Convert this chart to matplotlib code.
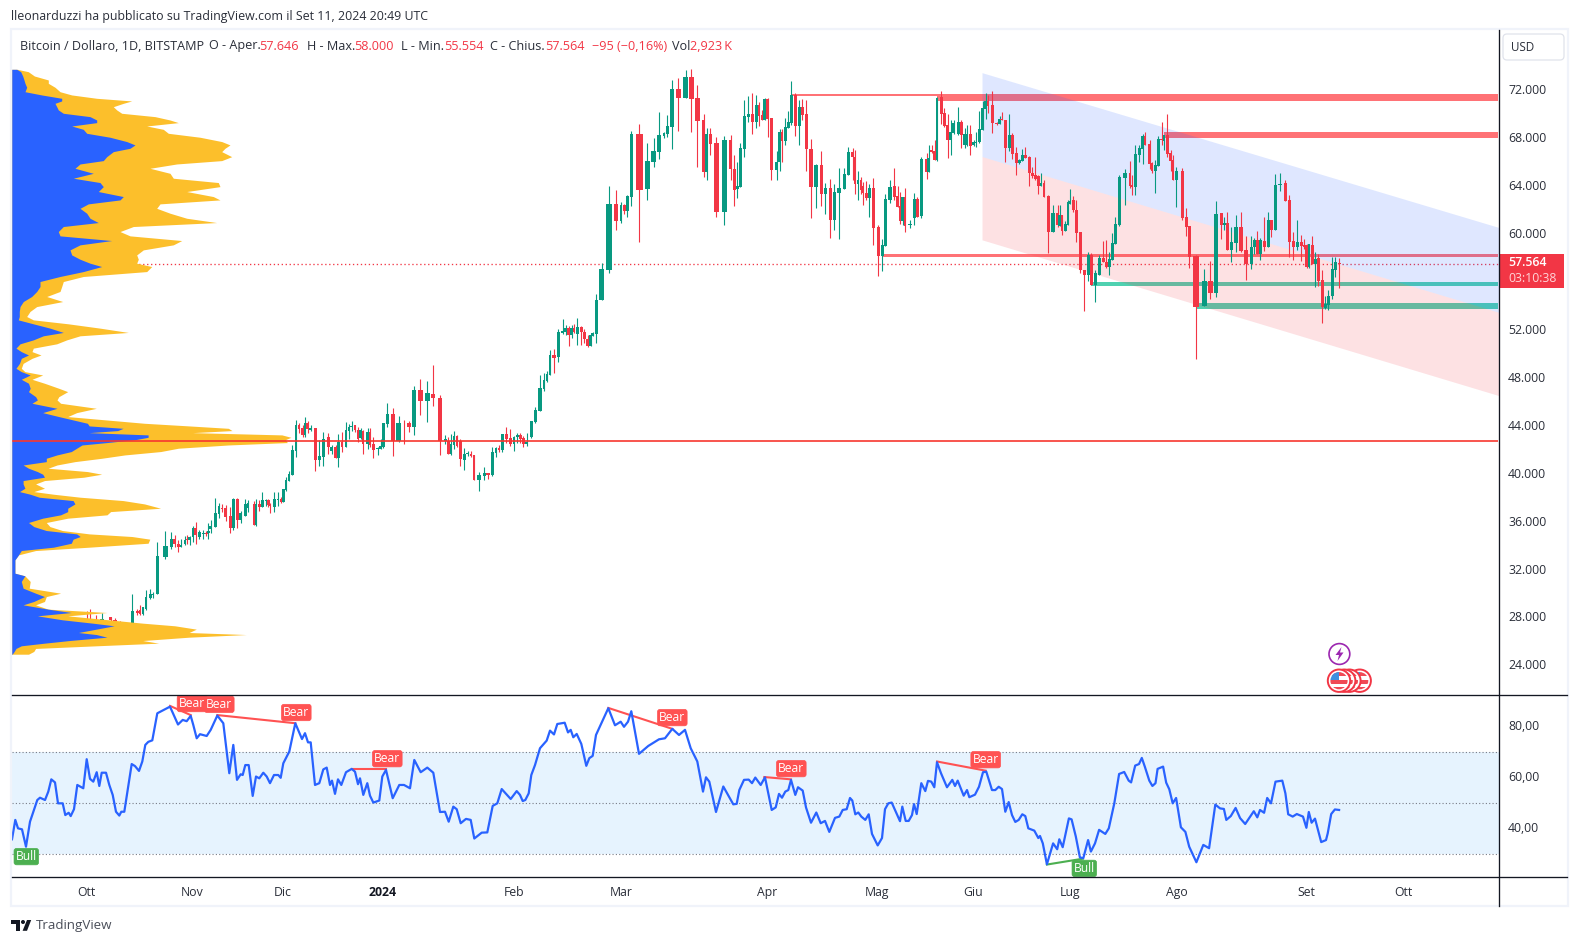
import numpy as np
import matplotlib
matplotlib.use("Agg")
import matplotlib.pyplot as plt
from matplotlib.patches import Rectangle, Circle, Polygon, FancyBboxPatch
from matplotlib.transforms import ScaledTranslation

FONT = ['Open Sans', 'DejaVu Sans']
plt.rcParams['font.family'] = FONT

# ---------- candles: (chart time, open, high, low, close), prices in thousand USD ----------
bars_2023_start = [
 (25,25.6,25.8,25.4,25.5),(29,25.5,25.7,25.3,25.6),(34,26.2,26.4,26.0,26.3),(40,26.3,26.6,26.1,26.5),
 (46,26.5,26.8,26.3,26.4),(52,26.4,26.7,26.2,26.6),(58,26.6,26.9,26.4,26.5),(64,26.5,26.8,26.3,26.7),
 (70,26.7,27.2,26.5,27.0),(76,27.0,27.5,26.8,27.0),(82,27.0,28.0,26.9,27.9),(87,27.9,28.6,27.5,27.7),
 (90,27.9,28.7,27.6,27.8),(96,27.8,28.2,27.5,27.6),(102,27.6,28.4,27.5,27.9),(110.7,28.05,28.1,27.7,27.8),
 (115,27.8,28.0,27.5,27.6),(120,27.4,27.7,26.9,27.0),(125,27.0,27.3,26.8,27.1),(129,27.1,27.4,26.9,27.4),
]
bars_2023_rally = [
 (132.4,27.41,29.98,27.33,28.58),(137.4,28.58,28.72,28.25,28.38),(140,28.61,29.05,28.22,28.33),
 (142.8,28.33,28.94,28.22,28.86),(146,28.72,30.33,28.61,29.75),(150.3,29.63,30.39,29.55,29.97),
 (152.8,29.91,30.19,29.63,30.02),(157.4,30.0,34.33,30.0,33.17),(165.3,33.08,35.25,32.9,34.0),
 (171.4,33.89,35.17,33.75,34.6),(174.6,34.6,34.89,33.89,34.17),(178.5,34.17,34.5,33.5,33.89),
 (181,33.92,34.56,33.89,34.11),(184.9,34.17,34.83,34.11,34.5),(187.1,34.56,34.89,34.17,34.5),
 (189.6,34.5,34.83,34.08,34.75),(192.8,34.72,35.67,34.33,35.5),(195.6,35.5,36.0,34.17,34.94),
 (199.2,34.72,35.33,34.61,35.17),(203.5,35.03,35.33,34.58,35.11),(206.3,35.11,35.28,34.86,35.0),
 (208.5,35.06,35.95,34.58,35.28),(210.6,35.39,36.17,35.06,35.67),(215.3,35.58,38.0,35.58,36.78),
 (219.2,36.67,37.56,36.31,37.36),(222.1,37.2,37.5,36.81,37.09),(225.6,37.17,37.39,36.11,36.45),
 (230.3,36.5,37.28,35.11,35.47),(233.5,35.45,38.0,35.33,37.95),(237.4,37.92,38.0,35.47,36.17),
 (240.6,36.17,36.95,35.89,36.72),(245.3,36.53,37.89,36.53,37.5),(247.8,37.2,37.84,36.86,37.56),
 (253.8,37.5,37.72,35.72,35.75),(256.3,35.72,37.89,35.67,37.5),(259.5,37.5,37.84,36.92,37.28),
 (262.4,37.28,38.5,37.22,37.84),(266,37.78,37.95,37.33,37.84),(268.5,37.84,37.89,37.22,37.42),
 (270.2,37.47,37.56,36.78,37.33),(274.2,37.28,38.5,36.86,37.92),(278.1,37.81,38.5,37.36,37.89),
 (281,37.89,38.11,37.58,37.64),(283.5,37.67,38.73,37.64,38.73),(286.3,38.67,39.73,38.61,39.5),
 (289.2,39.42,40.23,39.39,39.98),(292.4,39.95,42.39,39.92,42.0),(296.3,41.95,44.5,41.45,44.12),
]
bars_2023_winter = [
 (299.2,44.12,44.23,43.45,43.76),(302.7,43.81,44.12,43.12,43.28),(305.2,43.26,44.73,43.06,44.26),
 (307.7,44.23,44.4,43.4,43.73),(310.6,43.67,44.12,43.62,43.84),(315.2,43.84,43.84,40.25,41.17),
 (319.2,41.17,42.84,40.67,41.53),(323.1,41.45,43.51,40.67,42.95),(328.1,43.09,43.45,41.67,42.28),
 (331.7,41.95,42.42,41.67,42.23),(335.6,42.28,42.45,41.31,41.37),(338.4,41.37,43.34,40.59,42.7),
 (342,42.7,43.5,41.84,42.28),(345.9,42.28,44.34,42.23,43.67),(348.8,43.62,44.17,42.95,43.9),
 (351.6,43.9,44.4,43.62,44.01),(355.2,44.09,44.09,43.53,43.67),(358.1,43.67,43.9,42.7,42.9),
 (360.6,43.03,43.81,42.9,43.67),(363.1,43.62,43.67,41.67,42.51),(367.7,42.51,43.84,42.12,43.51),
 (370.2,43.51,43.84,42.23,42.42),(373.4,42.51,43.12,41.34,42.0),(377.7,42.12,42.23,41.62,42.17),
 (380.6,42.12,42.9,42.06,42.34),(383.4,42.28,44.26,42.14,44.26),(387.3,44.17,45.9,43.95,45.01),
 (393.1,45.01,45.48,41.5,42.78),(398.8,42.78,44.84,42.7,44.26),(404.5,44.26,44.51,42.51,44.23),
 (408.8,44.26,44.45,43.5,43.9),(414.1,43.95,47.34,43.26,47.01),(420.2,47.01,47.93,44.93,46.09),
 (427.3,46.09,47.76,44.34,46.76),(433,46.68,49.1,45.7,46.34),(440.2,46.34,46.57,41.59,42.78),
 (445.2,42.78,43.23,42.51,42.9),(448.4,42.78,43.06,41.67,41.67),(450.9,41.67,43.34,41.62,42.51),
 (454.1,42.45,43.62,42.06,43.17),(457,43.17,43.23,42.23,42.34),(460.5,42.78,42.92,40.67,41.28),
 (464.1,41.17,42.17,40.34,41.64),(467.7,41.67,41.9,41.5,41.73),(471.2,41.64,41.9,41.45,41.53),
 (474.1,41.59,41.59,39.5,39.5),(479.1,39.5,40.2,38.59,39.92),(484.1,39.84,40.59,39.5,40.09),
 (488,40.06,40.12,39.59,39.95),(492.3,39.92,42.23,39.87,41.84),(496.2,41.76,42.23,41.45,42.17),
 (499.1,42.17,42.4,41.84,42.0),(502.3,42.0,43.34,41.87,43.34),(506.2,43.34,43.9,42.56,42.92),
 (510.2,43.03,43.73,42.34,42.51),(514.1,42.51,43.17,41.95,43.06),(517.3,43.06,43.45,42.56,43.23),
 (520.5,43.23,43.45,42.62,42.95),(523.4,42.98,43.17,42.28,42.51),(526.9,42.51,43.45,42.34,42.7),
 (531.2,43.09,44.45,42.98,44.42),(535.1,44.37,45.59,44.23,45.34),(540.1,45.26,48.26,45.26,47.18),
 (544.1,47.09,48.4,46.95,47.84),(547.3,47.79,48.57,47.7,48.34),(550.1,48.29,50.35,48.29,49.93),
 (554.1,49.93,50.46,48.4,49.68),
]
bars_2024_spring = [
 (558.3,49.72,52.09,49.31,51.87),(562.7,51.75,52.92,51.7,51.89),(565.7,51.81,52.45,51.62,52.17),
 (568.7,52.17,52.31,50.72,51.62),(571.7,51.62,52.45,51.34,52.17),(574.3,52.17,52.5,51.75,51.81),
 (577.3,51.7,53.03,50.78,52.28),(581.3,52.28,52.37,50.78,51.81),(584.3,51.87,52.09,50.92,51.25),
 (587.7,51.25,51.62,50.56,50.7),(590.7,50.7,51.7,50.64,51.59),(592.7,51.53,51.81,51.48,51.75),
 (596.3,51.7,55.03,50.92,54.53),(601.7,54.53,57.59,54.53,57.12),(609.3,57.04,64.04,56.81,62.54),
 (616.3,62.54,63.71,60.37,61.12),(621,61.12,62.71,60.93,62.46),(624.3,62.48,62.54,61.71,61.98),
 (627.3,61.96,63.29,61.48,63.21),(631.3,63.12,68.63,62.37,68.38),(639.3,68.38,69.21,59.4,63.71),
 (647.3,63.79,67.6,62.87,66.13),(653.7,66.04,68.02,65.63,66.93),(659.3,66.88,70.21,66.29,68.3),
 (664,68.21,68.57,68.02,68.43),(667.3,68.38,69.96,68.1,69.05),(672.3,68.96,72.88,67.13,72.13),
 (678.3,72.13,73.05,68.63,71.38),(685.7,71.38,73.72,71.38,73.13),(691.3,73.13,73.8,68.55,71.3),
 (697.3,71.38,72.47,65.63,69.46),(703.7,69.55,70.05,64.79,65.21),(706.7,65.21,68.85,64.54,68.38),
 (710.3,68.38,68.88,66.63,67.54),(716.3,67.63,68.13,61.46,61.87),(724.3,61.87,68.21,60.79,67.88),
 (730.7,67.88,68.3,64.54,65.46),(734.3,65.46,66.63,62.37,63.71),(737.3,63.79,66.04,63.04,64.04),
 (740.3,63.96,67.63,63.96,67.21),(744.3,67.13,71.21,66.46,69.88),(748.3,69.8,71.55,69.38,70.05),
 (752.3,70.05,71.8,68.38,69.38),(756.3,69.38,71.63,68.88,70.8),(759.3,70.8,71.05,69.05,69.88),
 (762,69.96,70.38,69.55,69.55),(764.7,69.55,71.38,69.55,71.3),(767.7,71.3,71.38,68.13,69.63),
 (771.3,69.71,69.71,64.54,65.38),(776.7,65.38,66.96,64.54,66.04),(779.7,66.04,68.8,65.29,68.54),
 (782.3,68.54,68.8,66.04,67.79),(785.3,67.79,69.71,67.46,68.93),(788.3,68.88,70.3,68.88,69.35),
 (791.3,69.27,72.8,69.13,71.63),(795.3,71.63,71.8,68.21,69.05),(799.3,69.05,71.21,67.46,70.63),
 (802.3,70.63,71.3,69.55,69.96),(806.3,70.05,71.21,65.29,67.13),(811.3,67.13,67.96,61.37,63.96),
 (816.3,63.96,65.88,62.21,65.79),(821.3,65.79,66.96,62.37,63.37),(825.3,63.37,64.29,61.71,63.87),
 (830.3,63.87,64.63,59.71,61.21),(834.3,61.21,64.21,60.37,63.54),(839.3,63.46,65.54,59.62,63.87),
 (844.3,63.79,65.54,63.79,65.04),(848.3,64.96,67.27,64.96,66.88),(852.7,66.88,67.21,64.5,66.46),
 (855.3,66.46,67.04,63.4,64.21),(858.3,64.21,65.29,62.87,64.54),(861,64.54,64.82,63.4,63.71),
 (863.3,64.04,64.38,62.46,63.43),(866.3,63.43,64.43,62.87,63.04),(869.3,63.04,64.21,61.48,63.87),
 (873.3,63.87,64.71,59.12,60.54),(878.3,60.62,60.79,56.54,58.2),(882.3,58.2,59.62,56.95,59.12),
]
bars_2024_summer = [
 (885.3,59.04,63.37,59.04,62.96),(889.7,62.87,64.54,62.6,63.96),(894.3,64.04,65.54,62.87,63.12),
 (897.7,63.21,64.04,62.29,62.29),(900.3,62.37,63.54,60.87,61.12),(902.7,61.12,63.12,60.79,63.12),
 (905.3,63.12,63.87,60.2,60.71),(910,60.79,61.2,60.54,60.87),(914.3,61.37,63.46,60.79,62.96),
 (917.3,62.96,63.12,61.46,61.46),(921.3,61.54,66.46,61.37,66.29),(926.7,66.29,66.77,64.63,65.21),
 (928.7,65.21,67.46,65.21,66.35),(931.7,67.04,67.46,66.77,66.88),(934.7,66.96,67.88,66.21,66.21),
 (937.3,66.21,71.46,66.13,71.38),(941.3,71.46,71.96,69.21,70.05),(944.3,70.13,70.52,68.99,69.05),
 (947.7,69.13,70.0,66.38,67.88),(950.7,67.88,69.55,66.63,68.54),(953.7,68.46,69.55,68.38,69.3),
 (958.3,68.38,70.63,68.3,69.38),(961.3,69.38,69.55,67.21,68.3),(964.7,67.46,68.85,67.21,68.38),
 (967.3,67.46,69.13,67.38,68.38),(970.3,68.38,69.13,66.63,67.38),(973.7,67.46,67.88,67.38,67.71),
 (976,67.6,68.54,67.27,67.71),(979.3,67.71,70.3,67.6,68.8),(982.7,68.71,71.13,68.71,70.55),
 (985.7,70.46,71.8,69.6,71.13),(988.3,71.13,71.63,70.13,70.71),(992.3,70.8,71.96,68.46,69.3),
 (996.7,69.3,69.41,69.13,69.24),(999.7,69.21,69.88,69.18,69.63),(1001.7,69.6,70.21,69.55,69.55),
 (1005.3,69.55,69.55,66.04,67.21),(1009.3,67.21,70.05,66.96,68.3),(1012.3,68.3,68.43,66.29,66.71),
 (1016.3,66.77,67.27,64.96,65.96),(1019.3,65.96,66.29,65.88,66.21),(1022.3,66.13,67.1,66.13,66.63),
 (1025.3,66.63,67.27,66.38,66.4),(1029.3,66.49,66.57,64.04,65.13),(1032.3,65.13,65.65,64.68,64.88),
 (1035.3,64.96,66.46,64.54,64.63),(1038.3,64.88,64.96,63.37,64.04),(1041.3,64.04,65.1,63.99,64.29),
 (1044,64.29,64.54,63.12,63.12),(1048.3,63.21,63.29,58.45,60.2),(1053.3,60.2,62.46,60.2,61.79),
 (1057.7,61.79,62.46,60.65,60.79),(1059.7,60.71,62.46,60.7,61.62),(1062.3,61.62,61.62,59.96,60.29),
 (1065.3,60.29,61.15,60.29,60.87),(1068.3,60.79,62.87,60.79,62.71),(1070.3,62.54,63.76,62.54,62.79),
 (1073.3,62.87,63.21,61.87,62.04),(1076.3,62.04,62.87,59.37,60.12),(1080.3,60.2,60.2,56.79,57.04),
 (1084.3,57.04,57.04,53.62,56.62),(1088.3,56.62,58.54,56.12,58.29),(1091.3,58.29,58.45,55.79,55.79),
 (1095.3,55.79,57.04,54.37,56.79),(1099.3,56.62,58.29,56.62,58.04),(1103.3,58.04,59.45,57.7,57.7),
 (1106.3,57.7,59.54,57.2,57.29),(1109.3,57.29,58.54,56.62,57.95),(1112.3,57.87,60.15,57.87,59.29),
 (1115.3,59.2,61.46,59.2,60.87),(1119.3,60.79,64.96,60.7,64.79),(1125.3,64.71,65.46,62.46,65.13),
 (1130,65.13,66.13,63.87,64.04),(1132.3,64.13,64.96,63.29,63.96),(1135.3,63.96,67.46,63.29,66.71),
 (1139.3,66.63,67.46,66.04,67.21),(1142.7,67.13,68.38,65.88,68.21),(1145.3,68.21,68.54,67.46,67.46),
 (1149.7,67.54,67.88,65.46,65.88),(1152.3,65.96,66.04,65.13,65.29),(1155.3,65.29,66.21,63.46,65.79),
 (1158.3,65.71,68.21,65.71,67.96),(1161.7,67.96,69.38,67.46,67.88),(1164.3,67.79,68.3,67.04,68.3),
 (1167.3,68.3,70.05,66.46,66.71),(1170.7,66.79,67.04,65.29,66.13),(1173.3,66.21,66.63,64.54,64.54),
 (1176.3,64.54,65.63,62.29,65.29),
]
bars_2024_end = [
 (1182.3,65.29,65.54,61.21,61.37),(1186.3,61.46,62.21,59.87,60.62),(1189.3,60.7,60.7,57.2,58.12),
 (1196.3,58.2,58.29,49.61,53.95),(1204.3,54.03,57.12,54.03,56.12),(1210.3,56.12,57.79,54.62,55.12),
 (1216.3,55.12,62.79,54.78,61.71),(1221.3,61.79,61.79,59.62,60.79),(1224.3,60.79,61.46,60.37,60.96),
 (1227.3,60.96,61.87,58.7,58.7),(1231.3,58.7,60.65,57.7,59.37),(1236.3,59.29,61.62,58.54,60.62),
 (1241.3,60.62,61.87,58.54,58.62),(1246.3,58.7,59.87,56.2,57.54),(1251.3,57.54,59.87,57.12,58.95),
 (1254.3,58.95,59.7,58.37,59.54),(1257.3,59.54,60.29,58.37,58.37),(1260.3,58.37,59.7,57.87,59.54),
 (1264.3,59.45,61.46,58.62,58.95),(1268.3,58.95,61.87,58.95,61.21),(1271.3,61.21,61.21,59.79,60.37),
 (1275.3,60.37,65.04,60.37,64.13),(1280.3,64.13,65.13,63.62,64.21),(1285.3,64.29,64.54,62.79,62.79),
 (1289.3,62.87,63.29,58.12,59.37),(1293.3,59.45,60.2,57.87,58.95),(1297.3,58.95,61.21,58.7,59.37),
 (1301.3,59.37,59.95,57.79,59.04),(1304.3,59.12,59.62,58.79,58.95),(1306.7,59.12,59.2,57.2,57.29),
 (1309.3,57.29,59.2,57.2,59.2),(1312.3,59.12,59.87,57.54,57.54),(1315.3,57.54,58.54,55.62,57.95),
 (1318.3,58.04,58.34,55.7,56.12),(1322.3,56.2,57.04,52.62,53.95),(1325.3,53.87,54.87,53.78,54.2),
 (1328.3,54.12,55.37,53.7,54.87),(1332.3,54.87,58.12,54.62,57.12),(1335.3,57.04,58.12,56.45,57.7),
 (1339.3,57.646,58.0,55.554,57.564),
]

# ---------- RSI: (chart time, value) ----------
rsi_2023_a = [(12,35.9),(15.3,43.5),(18,40.2),(22,39.8),(26,33.0),(30,42.8),(37.3,51.3),(40,52.2),(45,51.3),(48.3,54.6),
 (51.3,59.4),(55,58.2),(58,50.0),(62.7,50.0),(65.3,45.4),(68.7,46.3),(70.7,45.0),(74,47.7),(77.3,57.2),(83.3,55.9),
 (86.7,67.3),(90,59.6),(93.3,58.5),(96.7,62.2),(99.3,56.8),(101.7,62.0),(106,62.0),(109.3,57.2),(112.7,53.3),(116,46.7),
 (119.3,45.2),(121.3,46.7),(124.3,46.7),(131.7,65.4),(135,64.6),(139,62.7),(142.3,66.4),(145.3,72.9),(148.3,74.1),(152.3,74.7),
 (157.3,85.3),(170,87.9),(178,80.9),(182.7,82.7),(186.7,82.2),(190.7,84.3),(193.3,80.7),(196.7,75.5),(200,77.1),(206.7,76.4),
 (210.7,78.8),(217.3,84.4),(223.3,81.4),(229.3,61.8),(233.3,72.9),(237,59.2),(240.7,61.4),(242.7,61.1),(245.3,65.0),(248.7,65.0),
 (252.7,52.9),(256,60.5),(259.3,59.8),(263.3,62.0),(266.7,60.5),(270,57.9),(274,61.1),(278.3,61.1),(280.7,60.0),(283.3,65.7),
 (289.3,70.3),(295.3,81.4),(302,75.2),(305,77.5),(308,73.9),(310.7,73.9),(315,57.2),(319.3,57.9),(323.3,63.3),(326.7,64.0),
 (330,57.2),(332,58.9),(335,53.7),(338,59.4),(341.3,57.2),(346,62.2),(351.7,63.5),(355,62.4),(358,57.5),(360,59.8),
 (363.3,53.3),(367.3,57.9),(370,53.0),(373.3,50.3),(379.3,51.1),(382.3,60.5),(386,63.1),(392.7,52.0),(399.3,57.2),(404,57.2)]
rsi_2024_a = [(410,55.9),(414.3,67.0),(420.7,62.2),(427.3,64.0),(433.3,62.0),(440,46.6),(445,46.7),(448.7,42.8),(453.3,48.7),(456.7,47.7),
 (460.7,42.2),(466,43.9),(470.7,43.5),(474.3,36.2),(481.7,38.5),(487.3,38.6),(492.7,49.0),(497.3,50.0),(501.7,55.6),(510.7,51.7),
 (516.7,54.8),(520,53.3),(522.7,50.9),(525.3,51.3),(528.7,53.9),(531.3,61.1),(535,65.0),(540,71.6),(546.7,74.6),(550,78.5),
 (554,77.0),(557.3,81.1),(564.7,81.6),(568,77.8),(570.7,78.8),(573.3,75.9),(576.7,77.2),(581.3,73.3),(586.3,64.7),(589.3,67.7),
 (592.7,68.6),(596,76.8),(608.3,87.3),(615,80.6),(620.7,82.0),(624,80.0),(628,82.0),(631.3,86.1),(639,69.4),(648.3,72.5),
 (659,75.1),(665,75.5),(672.3,79.2),(679,76.8),(685,78.8),(690.7,71.6),(697.3,66.4),(703,54.6),(706,60.2),(709.3,58.5),
 (716,46.6),(723.3,56.6),(733.3,49.6),(736.7,49.8),(739.3,55.2),(744,59.2),(748.7,59.3),(752,57.9),(755.3,60.1),(760.7,57.2),
 (765,60.2),(768.3,53.9),(771.7,47.4),(775.7,48.4),(779,53.7),(782,52.2),(785.3,54.6),(788.3,55.2),(791,59.2),(795.3,53.3),
 (798,56.3),(802.7,55.0),(806,48.4),(811,42.4),(816.3,46.4),(820.7,42.2),(825,43.1),(829.3,38.8),(835,44.3),(839.3,44.8)]
rsi_2024_b = [(842.7,47.4),(846.7,47.7),(850,52.1),(852.3,51.1),(855.3,45.7),(858.3,46.4),(861.3,44.8),(865.3,43.5),(868.7,45.7),(872,38.0),
 (877.7,33.5),(882,36.4),(885,47.7),(888.3,50.0),(891.7,50.3),(900,43.0),(902.3,48.7),(905.7,43.1),(908.7,43.1),(912,45.4),
 (914,49.7),(916.7,45.8),(921.3,57.9),(925.3,54.8),(928,58.8),(931.3,58.5),(934.3,56.3),(937,66.1),(941,61.8),(947,56.3),
 (952.3,59.2),(955,56.8),(957.7,58.9),(963.7,53.0),(967,55.2),(969.3,52.4),(975,53.4),(979,56.5),(983,62.2),(986.3,62.4),
 (992,55.2),(995.3,55.2),(998.7,56.5),(1002,55.6),(1005.3,46.7),(1008.7,50.5),(1012,45.4),(1015.3,42.7),(1018.7,43.5),(1022.3,45.7),
 (1025.3,45.0),(1028.3,40.2),(1034.3,39.3),(1038.3,36.4),(1040,37.2),(1042.8,34.3),(1046.9,26.1),(1053.1,34.3),(1057.2,32.0),(1059.3,35.9),
 (1062.7,32.8),(1068.9,44.1),(1071.6,43.7),(1075.8,37.0),(1079.9,28.8),(1083.3,28.5),(1088.1,35.6),(1090.9,31.1),(1095,34.3),(1099.1,39.6),
 (1105.3,38.0),(1108.8,40.2),(1114.3,50.0),(1119.1,61.5),(1124.2,62.3),(1128.7,58.9),(1131.1,58.2),(1135.2,64.8),(1139,65.4),(1141.8,67.8),
 (1144.8,64.4),(1149.3,58.9),(1152.4,56.8),(1155.5,57.9),(1157.6,63.5),(1163.1,64.4),(1166.2,58.1),(1169.3,55.5),(1172.7,50.0),(1176.1,52.1),
 (1180.9,40.6),(1185.4,38.8),(1189.2,33.0),(1196.4,26.9),(1203.3,33.7),(1209.1,32.4),(1215.3,49.5),(1220.1,48.0),(1223.9,47.8),(1226.3,43.5),
 (1230.8,45.0),(1235.6,48.2),(1240.1,44.2),(1245.2,41.9),(1253.8,46.9),(1257.3,44.5),(1260,47.4),(1264.1,46.3),(1267.2,52.1),(1271,50.0),
 (1275.5,58.5),(1282.3,58.9),(1285.4,53.9),(1288.2,45.7),(1292.7,44.8),(1296.8,45.8),(1303,44.8),(1306.4,40.4),(1308.8,46.6),(1311.6,42.4),
 (1315,44.0),(1321.2,34.8),(1326,35.6),(1327.7,38.2),(1331.2,45.8),(1334.9,47.6),(1339.1,47.4)]

# ---------- volume profile: (price, down volume, total volume) ----------
profile_upper = [(73.77,5,5.6),(73.57,9,16.6),(73.21,11,22.7),(72.88,12.3,36.6),(72.6,13.3,36.6),(72.27,15,43.3),(71.9,13.3,48.3),
 (71.63,30,60),(71.35,50,85),(71.13,50,120),(70.93,43.3,111.6),(70.65,45,101.6),(70.38,46.6,105),(70.1,51.6,110),(69.82,78.3,143.3),
 (69.54,85,158.3),(69.32,85,166.6),(69.04,60,135),(68.76,71.6,151.6),(68.43,75,156.6),(68.1,98.3,188.3),(67.74,115,210),(67.46,123.3,218.3),
 (67.18,118.3,213.3),(66.9,101.6,210),(66.48,95,220),(66.15,91.6,210),(65.87,68.3,165),(65.51,63.3,138.3),(65.09,81.6,158.3),(64.68,61.6,161.6),
 (64.32,88.3,206.6),(63.98,91.6,208.3),(63.57,86.6,175),(63.15,111.6,201.6),(62.87,108.3,208.3),(62.54,76.6,148.3),(62.17,68.3,145),
 (61.76,75,158.3),(61.34,78.3,175),(60.98,86.6,205),(60.65,51.6,121.6),(60.23,46.6,108.3),(59.87,48.3,118.3),(59.48,100,170),(59.12,68.3,161.6),
 (58.7,58.3,131.6),(58.28,60,125),(57.92,68.3,126.6),(57.59,78.3,125),(57.31,90,140),(56.89,71.6,135),(56.48,48.3,71.6),(56.06,28.3,51.6),
 (55.64,28.3,50),(55.23,25,48.3),(54.81,20,35),(54.39,11.6,51),(53.97,8.3,25),(53.56,7.6,18.3),(53.14,7.6,15),(52.86,6.6,21.6),(52.53,21.6,56.6),
 (52.17,38.3,88.3),(51.81,51.6,116.6),(51.53,31.6,68.3),(51.19,21.6,55),(50.86,8.3,45),(50.5,4.3,21.6)]
profile_lower = [(50.21,9.6,20.3),(49.93,16.8,29.3),(49.65,9.6,20.3),(49.23,7.8,11.4),(48.82,4.3,9.6),(48.54,9.6,13.2),(48.26,18.5,31),(47.9,9.6,20.3),
 (47.57,16.8,32.8),(47.15,18.5,47.1),(46.87,16.8,56),(46.45,23.9,47.1),(46.18,25.7,45.3),(45.9,20.3,48.9),(45.48,45.3,84.6),(45.12,31,65),(44.79,47.1,56),
 (44.23,75.7,132.8),(44.01,77.5,177.4),(43.81,111.4,216.7),(43.62,106,220.3),(43.45,77.5,181),(43.26,136.4,270.2),(43.06,136.4,279.2),(42.87,123.9,273.8),
 (42.62,95.3,275.6),(42.42,70.3,216.7),(42.15,65,166.7),(41.87,59.6,148.9),(41.59,45.3,113.2),(41.31,34.6,90),(41.03,34.6,63.2),(40.75,11.4,45.3),
 (40.48,16.8,36.4),(40.2,25.7,75.7),(39.98,31,90),(39.73,32.8,72.1),(39.45,11.4,32.8),(39.17,11.4,23.9),(38.81,13.2,32.8),(38.53,7.8,22.1),(38.31,18.5,41.8),
 (38.06,27.5,68.5),(37.78,61.4,111.4),(37.5,63.2,132.8),(37.14,56,148.9),(36.86,56,98.9),(36.59,48.9,95.3),(36.31,31,56),(35.95,16.8,34.6),(35.61,22.1,38.2),
 (35.28,34.6,50.7),(35.0,65,77.5),(34.78,68.5,120.3),(34.56,61.4,138.1),(34.22,59.6,136.4),(33.89,41.8,77.5),(33.61,9.6,23.9),(33.25,6.8,6.8),(32.83,3.2,3.2),
 (31.72,3.2,3.2),(31.5,13.2,13.2),(31.03,9.6,18.5),(30.47,11.4,17.5),(30.05,23.9,48.9),(29.77,32.8,34.6),(29.36,22.1,32.8),(29.08,11.4,23.9),(28.72,36.4,36.4),
 (28.44,59.6,95.3),(28.16,25.7,56),(27.83,50.7,97.1),(27.55,81,131),(27.33,102.4,163.1),(27.05,84.6,184.6),(26.77,66.7,177.4),(26.6,84.6,234.5),(26.38,95.3,177.4),
 (26.1,57.8,131),(25.88,32.8,147),(25.66,9.6,84.6),(25.44,4.3,23.9),(25.19,2.5,22.1),(24.96,0.5,16.8)]

# ---------- drawn levels (start time, low price, high price) ----------
red_zones = [(936.7,71.16,71.71),(791.7,71.58,71.74),(1164,68.05,68.55),(881.7,58.12,58.37)]
red_zone_ends = [1498.5,937,1498.5,1498.5]
green_zones = [(1091,55.65,56.04),(1197,53.78,54.28)]
channel_time = [982,1498.5]
channel_top = [73.49,60.58]
channel_mid = [66.49,53.5]
channel_low = [59.54,46.55]
support_price = 42.75
last_price = 57.564

# ---------- RSI divergences ----------
div_bear = [((170,88.2),(190.7,84.6)),((217.3,84.6),(295.3,81.4)),((351.7,63.5),(386,63.5)),
            ((608.3,87.4),(672.3,79.2)),((764.3,60.3),(791,59.4)),((937,66.4),(985.7,62.8))]
div_bull = [((1046.9,26.0),(1083,28.3))]
bear_labels = [(192,89.1),(219.3,88.8),(296.3,85.6),(387.3,67.5),(672.3,83.6),(791.3,63.6),(985.7,67.1)]
bull_labels = [(26.3,29.1),(1084.3,24.5)]

# ---------- axes labels ----------
price_ticks = list(range(24,73,4))
price_labels = [f"{v}.000" for v in price_ticks]
rsi_ticks = [40,60,80]
rsi_labels = ["40,00","60,00","80,00"]
month_time = [86.7,191.7,283,382.7,513.6,620.7,767,877.3,972.7,1070,1176.8,1306.4,1403.7]
month_names = ["Ott","Nov","Dic","2024","Feb","Mar","Apr","Mag","Giu","Lug","Ago","Set","Ott"]

GREEN,RED,BLUE,YELLOW = "#089981","#f23645","#2962ff","#fcbf2b"
INK = "#2a2e39"
W,H = 1579,944
L,R = 11.7,1498.5
fig = plt.figure(figsize=(W/100,H/100),dpi=100,facecolor="white")
def add(x0,y0,x1,y1):
    return fig.add_axes([x0/W,1-y1/H,(x1-x0)/W,(y1-y0)/H])
ax = add(L,30,R,695.3)
rs = add(L,695.3,R,877.3)

bars = np.array(bars_2023_start+bars_2023_rally+bars_2023_winter+bars_2024_spring+bars_2024_summer+bars_2024_end)
t,o,h,l,c = bars.T
gap = np.diff(t)
left = np.r_[gap[0],gap]; right = np.r_[gap,gap[-1]]
width = np.maximum(np.minimum(left,right)*0.82,2.4)
col = np.where(c>=o,GREEN,RED)

ax.set_xlim(L,R); ax.set_ylim(21.53,77.05)
rs.set_xlim(L,R); rs.set_ylim(21.0,92.35)

ax.hlines(last_price,L,R,colors=RED,lw=0.95,linestyles=(0,(1,2)),zorder=1)
for (s,lo,hi),e in zip(red_zones,red_zone_ends):
    ax.fill_between([s,e],lo,hi,color="#ff7276",lw=0,zorder=1.2)
for s,lo,hi in green_zones:
    ax.fill_between([s,R],lo,hi,color="#4fd1b0",lw=0,zorder=1.2)
ax.fill_between(channel_time,channel_mid,channel_top,color=BLUE,alpha=0.15,lw=0,zorder=2)
ax.fill_between(channel_time,channel_low,channel_mid,color=RED,alpha=0.15,lw=0,zorder=2)
ax.vlines(t,l,h,colors=col,lw=0.8,zorder=3)
ax.bar(t,np.maximum(np.abs(c-o),0.05),bottom=np.minimum(o,c),width=width,color=col,lw=0,zorder=3.1)
prof = np.array(profile_upper+profile_lower)
ax.fill_betweenx(prof[:,0],L,L+prof[:,2],color=YELLOW,lw=0,zorder=4)
ax.fill_betweenx(prof[:,0],L,L+prof[:,1],color=BLUE,lw=0,zorder=4.1)
ax.hlines(support_price,L,R,colors="#f7372f",lw=1.2,zorder=5)

ax.set_yticks(price_ticks); ax.set_yticklabels(price_labels)
ax.set_xticks([])
rs.axhspan(30,70,color="#e6f3fe",lw=0,zorder=1)
for lev in (30,50,70):
    rs.axhline(lev,color="#787b86",lw=0.8,ls=(0,(1,2)),zorder=1.5)
rv = np.array(rsi_2023_a+rsi_2024_a+rsi_2024_b)
for a,b in div_bear:
    rs.plot([a[0],b[0]],[a[1],b[1]],color="#ff5252",lw=1.5,zorder=2.5)
for a,b in div_bull:
    rs.plot([a[0],b[0]],[a[1],b[1]],color="#4caf50",lw=1.5,zorder=2.5)
rs.plot(rv[:,0],rv[:,1],color=BLUE,lw=1.6,zorder=3,solid_joinstyle="round")
for name,pts,fc in (("Bear",bear_labels,"#ff5252"),("Bull",bull_labels,"#4caf50")):
    for i,(px,py) in enumerate(pts):
        # the two overlapping labels keep both words legible: first word goes above the second box
        rs.text(px,py,name,color="white",ha="center",va="center",fontsize=8.7,zorder=4.5 if i==0 else 4,clip_on=False,
                bbox=dict(boxstyle="round,pad=0.14,rounding_size=0.2",fc=fc,ec=fc,lw=0.5))
rs.set_yticks(rsi_ticks); rs.set_yticklabels(rsi_labels)
rs.set_xticks(month_time); rs.set_xticklabels(month_names)
for a,dy in ((ax,1.3),(rs,1.8)):
    for s in a.spines.values(): s.set_visible(False)
    a.yaxis.tick_right()
    a.tick_params(axis="both",length=0,labelsize=8.8,labelcolor=INK)
    a.tick_params(axis="y",pad=7)
    for lb in a.get_yticklabels():
        lb.set_ha("left")
        lb.set_transform(lb.get_transform()+ScaledTranslation(0,dy/100,fig.dpi_scale_trans))
rs.tick_params(axis="x",pad=6.3)
for lb in rs.get_xticklabels():
    if lb.get_text()=="2024": lb.set_fontweight("bold"); lb.set_color("#131722")

# --- chrome drawn in pixel space ---
ov = fig.add_axes([0,0,1,1],zorder=10); ov.set_xlim(0,W); ov.set_ylim(H,0); ov.axis("off"); ov.patch.set_alpha(0)
ov.add_patch(Rectangle((10.8,28.8),1556.8,877.6,fc="none",ec="#f0f3fa",lw=1.6,zorder=0))
for y in (695.3,877.3):
    ov.plot([L,1567],[y,y],color="#131722",lw=0.95)
ov.plot([R,R],[29.5,906],color="#131722",lw=0.95)
ov.add_patch(FancyBboxPatch((1503,34),61,26,boxstyle="round,pad=0,rounding_size=4",fc="white",ec="#e0e3eb",lw=0.9))
ov.text(1523,47.5,"USD",ha="center",va="center",fontsize=8.4,color=INK)
ov.add_patch(Rectangle((R+0.5,254),65,33.7,fc=RED,ec="none"))
ov.text(1508,262.6,"57.564",color="white",fontsize=8.8,va="center",fontweight="semibold")
ov.text(1508,278.2,"03:10:38",color="#ffd5d8",fontsize=8.8,va="center")

ov.text(11,16.5,"lleonarduzzi ha pubblicato su TradingView.com il Set 11, 2024 20:49 UTC",fontsize=8.95,va="center",color=INK)
hdr = [(20.3,"Bitcoin / Dollaro, 1D, BITSTAMP",INK),(209.3,"O - Aper.",INK),(259.5,"57.646",RED),(306.7,"H - Max.",INK),(354.2,"58.000",RED),
       (400.7,"L - Min.",INK),(444.2,"55.554",RED),(490,"C - Chius.",INK),(545,"57.564",RED),(592,"\u221295 (\u22120,16%)",RED),(672,"Vol",INK),(690,"2,923\u2009K",RED)]
for x,s,cc in hdr:
    ov.text(x,46,s,fontsize=9.05,va="center",color=cc)

# footer logo
ov.add_patch(Polygon([(11,920),(20,920),(20,930.8),(15.5,930.8),(15.5,924),(11,924)],fc="#131722",ec="none"))
ov.add_patch(Circle((23,922),2,fc="#131722",ec="none"))
ov.add_patch(Polygon([(27,920),(31.2,920),(27,930.8),(22.6,930.8)],fc="#131722",ec="none"))
ov.text(35.5,926,"TradingView",fontsize=9.6,va="center",color="#4a4e59")

# event icons
ic = Circle((1339.4,654),10.4,fc="white",ec="#9c27b0",lw=1.2); ov.add_patch(ic)
ov.add_patch(Polygon([(1341.5,647),(1335.5,655),(1339,655),(1337.5,661),(1343.5,652.5),(1340,652.5)],fc="#9c27b0",ec="none"))
def flag(cx,cy):
    ring = Circle((cx,cy),11.2,fc="white",ec="#f23645",lw=1.4); ov.add_patch(ring)
    clip = Circle((cx,cy),8.6,transform=ov.transData)
    for i,(y0,fc) in enumerate([(-9,"#f04a55"),(-4.5,"white"),(-1,"#f04a55"),(3,"white"),(6,"#f04a55")]):
        r = Rectangle((cx-9,cy+y0),18,4.5,fc=fc,ec="none"); ov.add_patch(r); r.set_clip_path(clip)
    r = Rectangle((cx-9,cy-9),9,8.5,fc="#3d8fe0",ec="none"); ov.add_patch(r); r.set_clip_path(clip)
for cx in (1359.7,1349.4,1344.2,1339):
    flag(cx,680.7)

fig.savefig("out.png",dpi=100,facecolor="white")
